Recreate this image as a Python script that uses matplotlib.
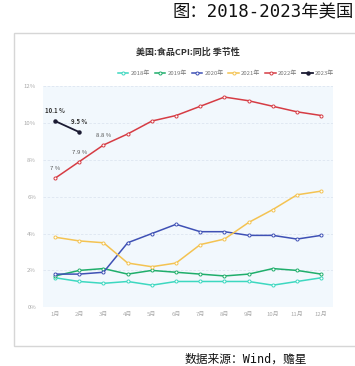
import matplotlib
matplotlib.use("Agg")
import matplotlib.pyplot as plt
from matplotlib.patches import Rectangle

plt.rcParams['font.family'] = ['Noto Sans CJK SC', 'DejaVu Sans']

months = ['1月', '2月', '3月', '4月', '5月', '6月', '7月', '8月', '9月', '10月', '11月', '12月']
y2018 = [1.6, 1.4, 1.3, 1.4, 1.2, 1.4, 1.4, 1.4, 1.4, 1.2, 1.4, 1.6]
y2019 = [1.7, 2.0, 2.1, 1.8, 2.0, 1.9, 1.8, 1.7, 1.8, 2.1, 2.0, 1.8]
y2020 = [1.8, 1.8, 1.9, 3.5, 4.0, 4.5, 4.1, 4.1, 3.9, 3.9, 3.7, 3.9]
y2021 = [3.8, 3.6, 3.5, 2.4, 2.2, 2.4, 3.4, 3.7, 4.6, 5.3, 6.1, 6.3]
y2022 = [7.0, 7.9, 8.8, 9.4, 10.1, 10.4, 10.9, 11.4, 11.2, 10.9, 10.6, 10.4]
y2023 = [10.1, 9.5]
labels2022 = ['7 %', '7.9 %', '8.8 %']
labels2023 = ['10.1 %', '9.5 %']
yticks = [0, 2, 4, 6, 8, 10, 12]
series_names = ['2018年', '2019年', '2020年', '2021年', '2022年', '2023年']
colors = ['#3dd8c0', '#1fae6b', '#3f51b5', '#f4c352', '#d63c44', '#1b1b33']

W, H = 355, 366
fig = plt.figure(figsize=(W / 100, H / 100), dpi=100)
fig.patch.set_facecolor('white')

# outer box
fig.patches.append(Rectangle((14 / W, 1 - 346 / H), (W + 10 - 14) / W, (346 - 33) / H,
                             transform=fig.transFigure, facecolor='white',
                             edgecolor='#d6d6d6', lw=1.0, zorder=-10))

left, right, top, bottom = 43, 333.3, 86, 307.3
ax = fig.add_axes([left / W, 1 - bottom / H, (right - left) / W, (bottom - top) / H])
ax.set_zorder(1)
ax.set_facecolor('#f2f8fd')

x = list(range(len(months)))
all_series = [y2018, y2019, y2020, y2021, y2022]
for s, c, n in zip(all_series, colors[:5], series_names[:5]):
    ax.plot(x[:len(s)], s, color=c, lw=1.1, marker='o', ms=2.2, mfc='white',
            mec=c, mew=0.7, label=n, zorder=3)
ax.plot(x[:len(y2023)], y2023, color=colors[5], lw=1.3, marker='o', ms=2.2,
        mfc=colors[5], mec=colors[5], label=series_names[5], zorder=4)

for i, t in enumerate(labels2022):
    ax.annotate(t, (x[i], y2022[i]), xytext=(0, 5), textcoords='offset points',
                ha='center', va='bottom', fontsize=4.3, color='#555555')
for i, t in enumerate(labels2023):
    ax.annotate(t, (x[i], y2023[i]), xytext=(0, 5), textcoords='offset points',
                ha='center', va='bottom', fontsize=4.3, color='#333333', fontweight='bold')

ax.set_xlim(-0.5, 11.5)
ax.set_ylim(0, 12)
ax.set_yticks(yticks)
ax.set_yticklabels([f'{v}%' for v in yticks])
ax.set_xticks(x)
ax.set_xticklabels(months)
ax.tick_params(axis='both', length=0, labelsize=4.3, colors='#aaaaaa', pad=3)
ax.tick_params(axis='y', pad=5)
for sp in ax.spines.values():
    sp.set_visible(False)
ax.grid(axis='y', color='#dde6f0', lw=0.6, ls=(0, (3, 2)))
ax.set_axisbelow(True)

leg = fig.legend(*ax.get_legend_handles_labels(), loc='center',
                 bbox_to_anchor=(226 / W, 1 - 73 / H), ncol=6, frameon=False,
                 fontsize=4.3, handlelength=1.8, handletextpad=0.35, columnspacing=0.8,
                 labelcolor='#777777')

fig.text(188 / W, 1 - 52 / H, '美国:食品CPI:同比 季节性', ha='center', va='center',
         fontsize=6.5, fontweight='bold', color='#333333')

mono = ['DejaVu Sans Mono', 'Noto Sans CJK SC']
fig.text(354 / W, 1 - 12 / H, '图：2018-2023年美国', ha='right', va='center',
         fontsize=12.5, color='#111111', family=mono)
fig.text(185 / W, 1 - 353 / H, '数据来源：Wind，赡星', ha='left', va='top',
         fontsize=8.5, color='#111111', family=mono)

fig.savefig('out.png', dpi=100)
